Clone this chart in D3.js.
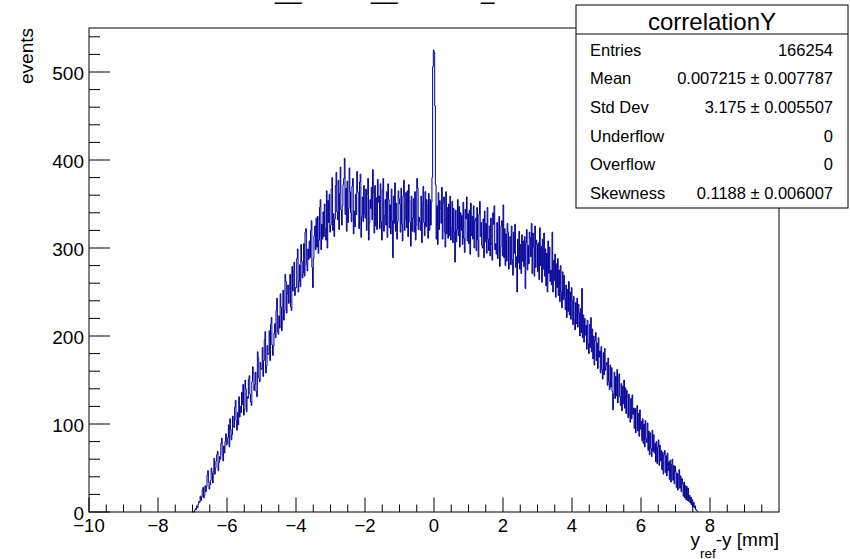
<!DOCTYPE html>
<html>
<head>
<meta charset="utf-8">
<script src="https://cdn.jsdelivr.net/npm/d3@7"></script>
<style>
  html, body { margin: 0; padding: 0; background: #fff; }
  svg { display: block; font-family: "Liberation Sans", Arial, Helvetica, sans-serif; }
</style>
</head>
<body>
<svg id="chart" width="850" height="559"></svg>
<script>
// histogram binning: 1000 bins over [-10, 10], only the filled range is listed
const binWidth = 0.02;
const firstEdge = -7.0;

// bin contents, one row per 0.2 mm
const counts = [
  0, 0, 0, 2, 4, 3, 7, 5, 9, 12,
  11, 18, 13, 17, 25, 28, 16, 19, 30, 23,
  29, 42, 47, 34, 26, 31, 36, 50, 44, 33,
  46, 61, 43, 50, 58, 65, 69, 47, 56, 63,
  60, 78, 84, 65, 58, 75, 67, 80, 89, 76,
  78, 85, 99, 74, 106, 94, 82, 88, 109, 97,
  96, 119, 127, 104, 93, 113, 99, 131, 108, 120,
  113, 136, 122, 145, 110, 117, 150, 140, 114, 131,
  129, 151, 155, 134, 125, 121, 148, 165, 158, 138,
  145, 159, 137, 131, 182, 175, 152, 148, 170, 163,
  162, 187, 154, 172, 196, 205, 158, 166, 189, 179,
  180, 206, 172, 213, 221, 190, 178, 188, 203, 214,
  198, 229, 243, 205, 202, 223, 209, 248, 233, 206,
  221, 252, 218, 229, 270, 262, 226, 248, 258, 237,
  239, 270, 233, 229, 279, 251, 273, 284, 246, 255,
  255, 288, 299, 250, 262, 281, 256, 304, 285, 266,
  272, 305, 268, 318, 322, 281, 274, 299, 287, 308,
  289, 320, 331, 278, 255, 288, 314, 325, 298, 334,
  301, 336, 294, 309, 346, 355, 298, 327, 310, 341,
  313, 350, 322, 309, 365, 300, 354, 329, 361, 318,
  326, 367, 380, 320, 339, 313, 333, 371, 386, 341,
  332, 377, 321, 362, 392, 343, 326, 348, 372, 379,
  402, 338, 368, 319, 376, 329, 345, 391, 364, 340,
  330, 370, 379, 316, 342, 324, 361, 338, 387, 364,
  362, 322, 375, 384, 312, 336, 358, 330, 371, 339,
  334, 367, 320, 361, 379, 309, 329, 355, 345, 369,
  332, 389, 363, 317, 371, 325, 357, 321, 378, 352,
  359, 322, 373, 330, 309, 366, 379, 319, 337, 355,
  326, 364, 312, 373, 355, 323, 349, 316, 367, 331,
  289, 359, 328, 374, 319, 351, 310, 330, 365, 356,
  350, 318, 368, 327, 308, 359, 377, 320, 333, 363,
  323, 365, 313, 372, 354, 329, 302, 359, 319, 334,
  356, 318, 364, 309, 326, 379, 368, 321, 335, 330,
  320, 359, 306, 351, 370, 329, 314, 364, 324, 355,
  348, 311, 362, 320, 355, 326, 352, 380, 506, 525,
  522, 462, 372, 310, 348, 304, 363, 321, 354, 345,
  328, 369, 310, 351, 358, 318, 301, 364, 316, 346,
  311, 350, 314, 359, 309, 323, 353, 306, 345, 318,
  284, 343, 307, 321, 355, 314, 347, 301, 340, 320,
  337, 304, 352, 311, 295, 344, 333, 358, 308, 339,
  305, 343, 293, 351, 314, 336, 310, 348, 300, 331,
  334, 297, 346, 309, 290, 338, 353, 313, 329, 303,
  300, 333, 289, 342, 307, 328, 294, 346, 310, 297,
  325, 291, 334, 304, 286, 340, 327, 348, 298, 305,
  293, 329, 288, 321, 336, 279, 301, 325, 331, 291,
  349, 289, 322, 280, 316, 285, 328, 318, 276, 312,
  313, 281, 325, 287, 269, 318, 294, 327, 278, 290,
  250, 310, 283, 319, 276, 304, 271, 315, 285, 308,
  279, 313, 254, 306, 321, 275, 303, 282, 318, 312,
  290, 328, 271, 317, 301, 268, 325, 278, 309, 304,
  273, 306, 264, 323, 280, 302, 261, 310, 276, 317,
  268, 299, 257, 294, 250, 308, 271, 301, 262, 275,
  258, 318, 250, 286, 263, 293, 244, 282, 255, 288,
  246, 275, 239, 280, 250, 232, 273, 241, 269, 243,
  230, 258, 221, 253, 228, 262, 224, 250, 219, 255,
  240, 213, 245, 218, 207, 238, 214, 243, 210, 236,
  226, 200, 231, 204, 254, 198, 224, 193, 220, 201,
  212, 185, 218, 191, 180, 213, 187, 221, 182, 208,
  174, 200, 167, 195, 204, 172, 192, 163, 198, 176,
  183, 158, 188, 162, 151, 181, 156, 186, 161, 167,
  170, 144, 175, 148, 139, 167, 142, 164, 137, 116,
  134, 159, 129, 154, 132, 162, 124, 151, 157, 131,
  121, 146, 115, 143, 123, 150, 118, 141, 112, 138,
  131, 107, 134, 110, 102, 129, 106, 133, 111, 118,
  95, 118, 90, 115, 121, 92, 112, 86, 116, 94,
  103, 81, 106, 78, 100, 74, 104, 83, 79, 101,
  70, 92, 65, 90, 72, 63, 93, 69, 88, 67,
  78, 57, 80, 55, 74, 82, 53, 76, 58, 70,
  48, 68, 43, 65, 70, 45, 64, 41, 67, 47,
  57, 37, 59, 34, 54, 60, 36, 53, 32, 52,
  46, 28, 44, 25, 42, 48, 27, 41, 23, 38,
  32, 18, 34, 16, 30, 14, 29, 13, 27, 12,
  19, 10, 17, 8, 14, 6, 11, 5, 7, 3,
  2, 1
];

const xMajor = [-10, -8, -6, -4, -2, 0, 2, 4, 6, 8];
const yMajor = [0, 100, 200, 300, 400, 500];

const statLabels = ["Entries", "Mean", "Std Dev", "Underflow", "Overflow", "Skewness"];
const statValues = ["166254", "0.007215 \u00b1 0.007787", "3.175 \u00b1 0.005507", "0", "0", "0.1188 \u00b1 0.006007"];

// pad title, mostly above the canvas edge: only its underscores reach into view
const titleParts = [{ at: 275, s: "__" }, { at: 371, s: "__" }, { at: 481, s: "_" }];

const frame = { left: 89, right: 779, top: 28, bottom: 512 };
const ink = "#000099";

const svg = d3.select("#chart");

const x = d3.scaleLinear().domain([-10, 10]).range([frame.left, frame.right]);
const y = d3.scaleLinear().domain([0, 550]).range([frame.bottom, frame.top]);

// step outline: up from zero at the first edge, down to zero after the last bin
const pts = [[firstEdge, 0]];
counts.forEach((c, i) => pts.push([firstEdge + i * binWidth, c]));
pts.push([firstEdge + counts.length * binWidth, 0]);

const line = d3.line()
  .x(d => x(d[0]))
  .y(d => y(d[1]))
  .curve(d3.curveStepAfter);

svg.append("path")
  .datum(pts)
  .attr("fill", "none")
  .attr("stroke", ink)
  .attr("stroke-width", 1)
  .attr("d", line);

// frame
svg.append("rect")
  .attr("x", frame.left).attr("y", frame.top)
  .attr("width", frame.right - frame.left)
  .attr("height", frame.bottom - frame.top)
  .attr("fill", "none")
  .attr("stroke", "#000")
  .attr("stroke-width", 1);

const xMinor = d3.range(-10, 10.001, 0.5).filter(v => Math.abs(v % 2) > 1e-9);
const yMinor = d3.range(0, 541, 20).filter(v => v % 100 !== 0);

const fmt = d3.format("d");

// x axis, ticks pointing into the frame
svg.append("g")
  .attr("transform", `translate(0,${frame.bottom})`)
  .call(d3.axisBottom(x).tickValues(xMinor).tickSize(-7.5).tickFormat("").offset(0))
  .call(g => g.select(".domain").remove());
svg.append("g")
  .attr("transform", `translate(0,${frame.bottom})`)
  .call(d3.axisBottom(x).tickValues(xMajor).tickSize(-14.5).tickPadding(7).tickFormat(fmt).offset(0))
  .call(g => g.select(".domain").remove())
  .call(g => g.selectAll("text").attr("font-size", 18.5).attr("fill", "#000").attr("font-family", null));

// y axis
svg.append("g")
  .attr("transform", `translate(${frame.left},0)`)
  .call(d3.axisLeft(y).tickValues(yMinor).tickSize(-11).tickFormat("").offset(0))
  .call(g => g.select(".domain").remove());
svg.append("g")
  .attr("transform", `translate(${frame.left},0)`)
  .call(d3.axisLeft(y).tickValues(yMajor).tickSize(-21).tickPadding(5).tickFormat(fmt).offset(0))
  .call(g => g.select(".domain").remove())
  .call(g => g.selectAll("text").attr("font-size", 19).attr("dy", "0.4em").attr("fill", "#000").attr("font-family", null));

svg.selectAll(".tick line").attr("stroke", "#000");

// axis titles
svg.append("text")
  .attr("transform", `translate(33,${frame.top}) rotate(-90)`)
  .attr("text-anchor", "end")
  .attr("font-size", 19)
  .text("events");

const xt = svg.append("text")
  .attr("x", frame.right)
  .attr("y", 546)
  .attr("text-anchor", "end")
  .attr("font-size", 19);
xt.append("tspan").text("y");
xt.append("tspan").attr("dy", 12).attr("font-size", 13.5).text("ref");
xt.append("tspan").attr("dy", -12).text("-y [mm]");

// title
const title = svg.append("text")
  .attr("y", -1)
  .attr("font-size", 24);
titleParts.forEach(p => title.append("tspan").attr("x", p.at).text(p.s));

// statistics box
const box = { left: 576, right: 848, top: 5, bottom: 208, head: 34 };
const stats = svg.append("g");
stats.append("rect")
  .attr("x", box.left).attr("y", box.top)
  .attr("width", box.right - box.left)
  .attr("height", box.bottom - box.top)
  .attr("fill", "#fff")
  .attr("stroke", "#000");
stats.append("line")
  .attr("x1", box.left).attr("x2", box.right)
  .attr("y1", box.head).attr("y2", box.head)
  .attr("stroke", "#000");
stats.append("text")
  .attr("x", (box.left + box.right) / 2)
  .attr("y", 29.5)
  .attr("text-anchor", "middle")
  .attr("font-size", 24)
  .text("correlationY");

const rowY = d3.scaleLinear().domain([0, 5]).range([55.5, 199]);
stats.selectAll("text.lbl")
  .data(statLabels)
  .enter().append("text")
  .attr("class", "lbl")
  .attr("x", 590)
  .attr("y", (d, i) => rowY(i))
  .attr("font-size", 16.5)
  .text(d => d);
stats.selectAll("text.val")
  .data(statValues)
  .enter().append("text")
  .attr("class", "val")
  .attr("x", 833)
  .attr("y", (d, i) => rowY(i))
  .attr("text-anchor", "end")
  .attr("font-size", 16.5)
  .text(d => d);
</script>
</body>
</html>
